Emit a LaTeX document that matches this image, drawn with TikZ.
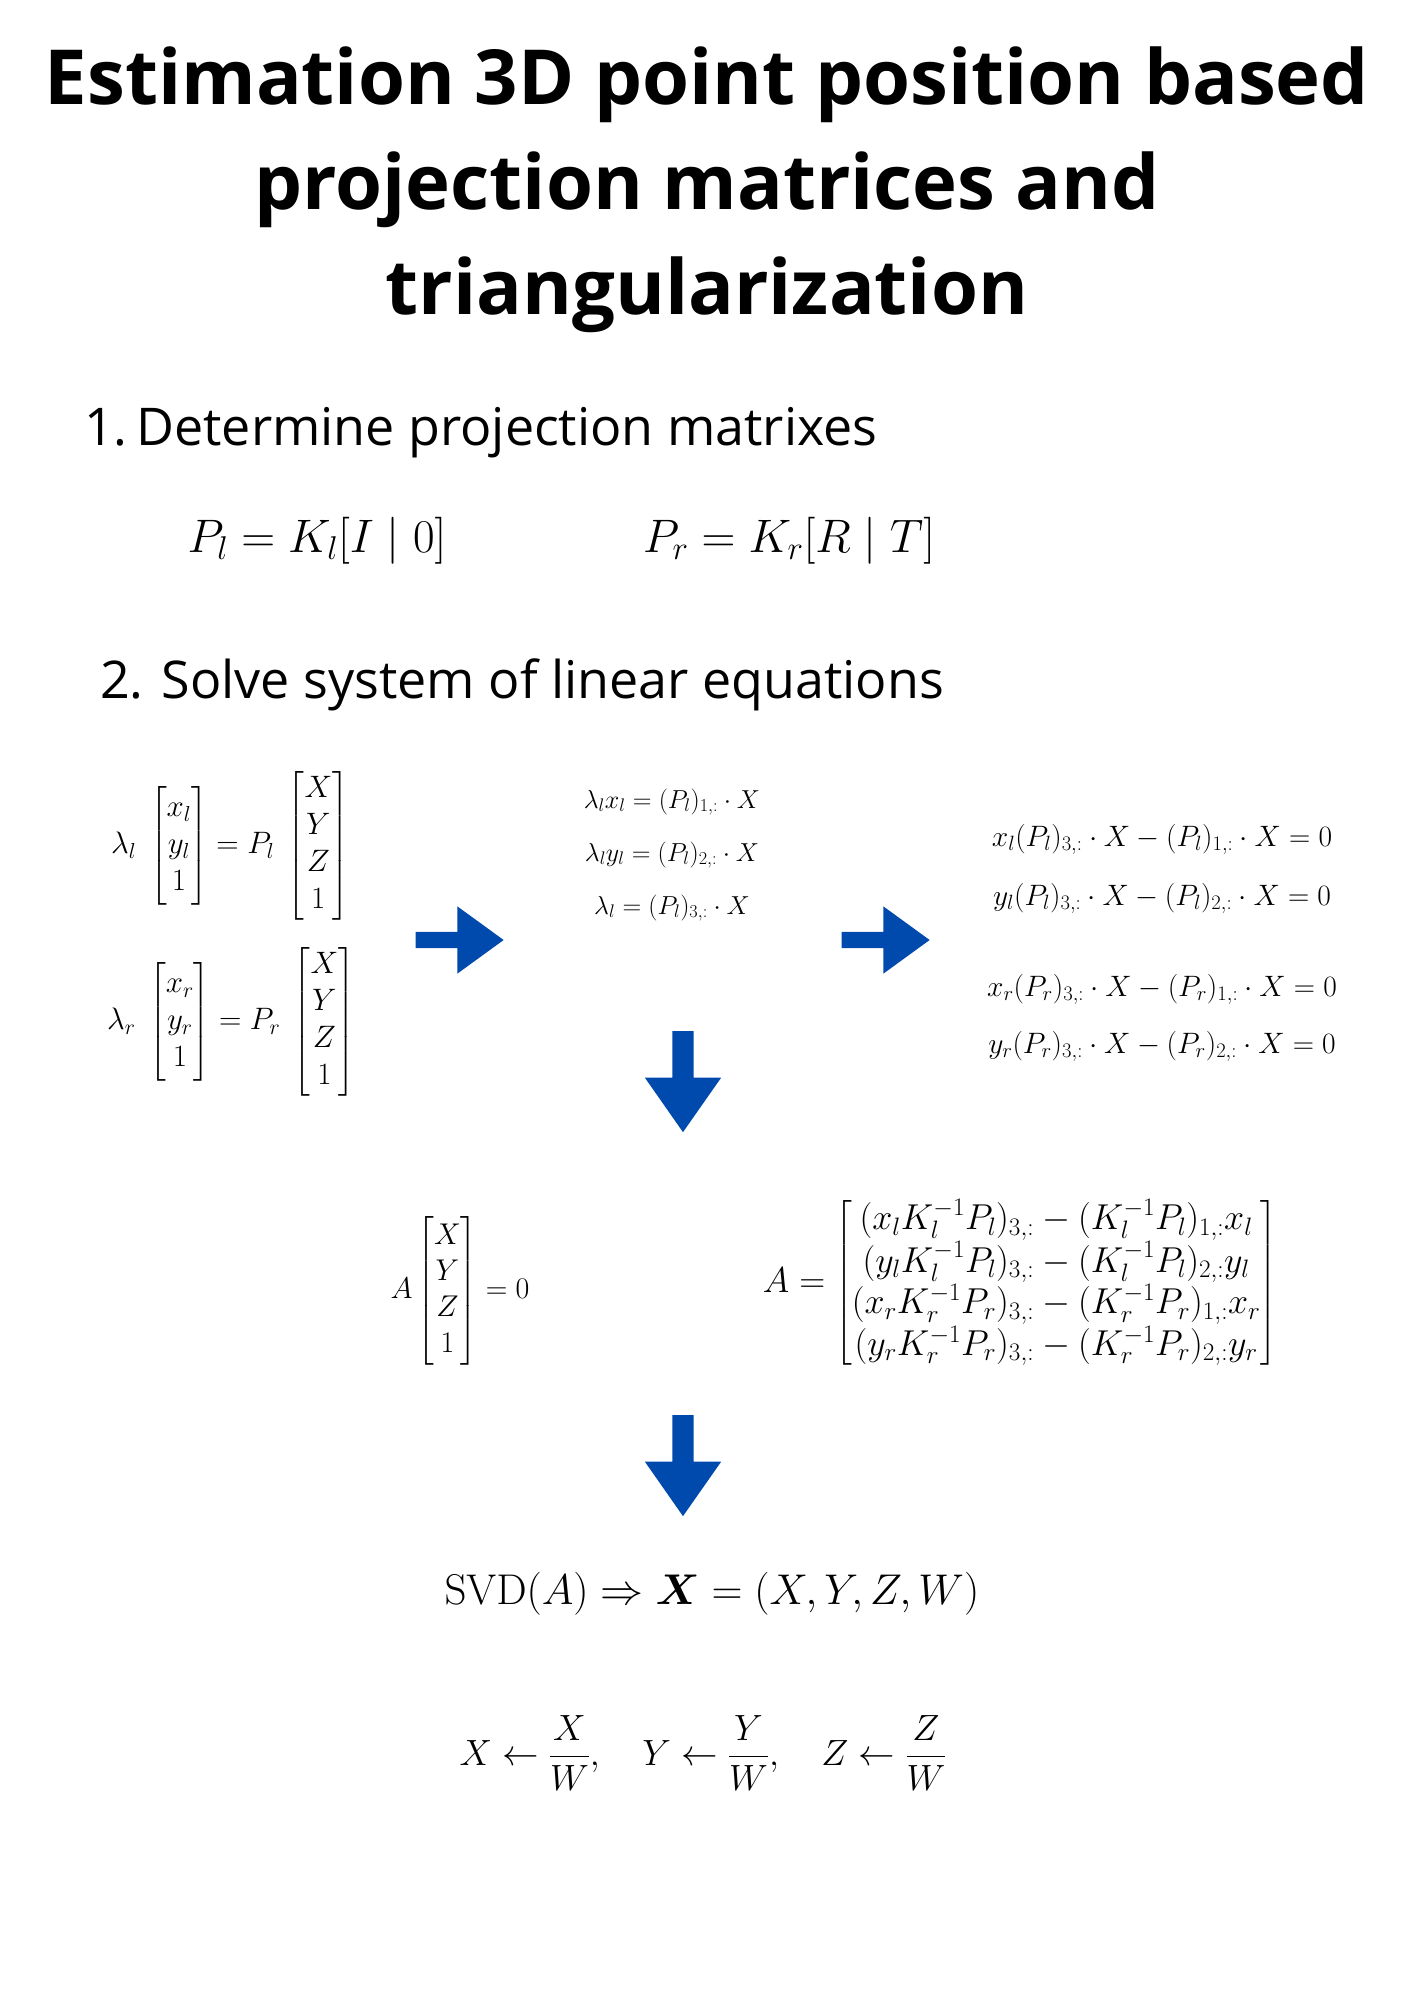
\RequirePackage{fix-cm}
\documentclass[tikz,border=0pt]{standalone}
\usepackage{amsmath}
\usepackage[no-math]{fontspec}
\setmainfont{Open Sans}
\usetikzlibrary{shapes.arrows, positioning}
\definecolor{azulcanva}{HTML}{004AAD}
\colorlet{colTexto}{black}
\colorlet{colFlecha}{azulcanva}
\tikzset{
  titulo/.style={font=\fontsize{76}{105}\selectfont\bfseries, align=center,
    text=colTexto, inner sep=0pt},
  paso/.style={font=\fontsize{52}{60}\selectfont, anchor=base west,
    text=colTexto, inner sep=0pt},
  ecuacion/.style={inner sep=0pt, text=colTexto, align=center},
  flechaDer/.style={single arrow, fill=colFlecha, draw=none,
    inner xsep=0pt, inner ysep=8pt, single arrow head extend=25.5pt,
    single arrow tip angle=72, minimum height=88pt},
  flechaAbajo/.style={flechaDer, rotate=-90, inner ysep=10.5pt,
    single arrow head extend=27.5pt, single arrow tip angle=70,
    minimum height=101pt},
}
\newcommand{\tam}[2]{\fontsize{#1}{#2}\selectfont}

\begin{document}
\begin{tikzpicture}[x=1pt, y=-1pt]
  \fill[white] (0,0) rectangle (1414,2000);
  \useasboundingbox (0,0) rectangle (1414,2000);

  % titulo y pasos
  \node[titulo, anchor=north] (t) at (707,47)
    {Estimation 3D point position based\\projection matrices and\\triangularization};
  \node[paso] (p1) at (84,445) {1.\,Determine projection matrixes};
  \node[paso] (p2) at (100,698) {2. Solve system of linear equations};

  % matrices de proyeccion
  \node[ecuacion, font=\tam{47}{52}, anchor=base] (pl) at (317,552) {$P_l = K_l[I \mid 0]$};
  \node[ecuacion, font=\tam{47}{52}, anchor=base] (pr) at (789,552) {$P_r = K_r[R \mid T]$};

  % sistema
  \node[ecuacion, font=\tam{31}{37}] (sisL) at (230,846)
    {$\lambda_l\; \begin{bmatrix} x_l\\ y_l\\ 1 \end{bmatrix} = P_l\;
      \begin{bmatrix} X\\ Y\\ Z\\ 1 \end{bmatrix}$};
  \node[ecuacion, font=\tam{31}{37}] (sisR) at (231,1022)
    {$\lambda_r\; \begin{bmatrix} x_r\\ y_r\\ 1 \end{bmatrix} = P_r\;
      \begin{bmatrix} X\\ Y\\ Z\\ 1 \end{bmatrix}$};

  \node[flechaDer] (f1) at (454,940) {};

  \node[ecuacion, font=\tam{26}{53}] (medio) at (672,855)
    {$\lambda_l x_l = (P_l)_{1,:} \cdot X$\\
     $\lambda_l y_l = (P_l)_{2,:} \cdot X$\\
     $\lambda_l = (P_l)_{3,:} \cdot X$};

  \node[flechaDer] (f2) at (880,940) {};

  \node[ecuacion, font=\tam{29.5}{59}] (derL) at (1162,869)
    {$x_l (P_l)_{3,:} \cdot X - (P_l)_{1,:} \cdot X = 0$\\
     $y_l (P_l)_{3,:} \cdot X - (P_l)_{2,:} \cdot X = 0$};
  \node[ecuacion, font=\tam{29.5}{57}] (derR) at (1162,1018)
    {$x_r (P_r)_{3,:} \cdot X - (P_r)_{1,:} \cdot X = 0$\\
     $y_r (P_r)_{3,:} \cdot X - (P_r)_{2,:} \cdot X = 0$};

  \node[flechaAbajo] (f3) at (683,1074) {};

  % forma homogenea
  \node[ecuacion, font=\tam{30}{36}] (aHom) at (460,1291)
    {$A \begin{bmatrix} X\\ Y\\ Z\\ 1 \end{bmatrix} = 0$};
  \node[ecuacion, font=\tam{36}{40}] (aMat) at (1020,1283)
    {$A = \begin{bmatrix}
      (x_l K_l^{-1} P_l)_{3,:} - (K_l^{-1} P_l)_{1,:} x_l\\
      (y_l K_l^{-1} P_l)_{3,:} - (K_l^{-1} P_l)_{2,:} y_l\\
      (x_r K_r^{-1} P_r)_{3,:} - (K_r^{-1} P_r)_{1,:} x_r\\
      (y_r K_r^{-1} P_r)_{3,:} - (K_r^{-1} P_r)_{2,:} y_r
    \end{bmatrix}$};

  \node[flechaAbajo] (f4) at (683,1458) {};

  % solucion
  \node[ecuacion, font=\tam{43}{50}] (svd) at (712,1594)
    {$\mathrm{SVD}(A) \Rightarrow \boldsymbol{X} = (X, Y, Z, W)$};
  \node[ecuacion, font=\tam{36.5}{44}] (norm) at (703,1753)
    {$X \leftarrow \dfrac{X}{W},\quad Y \leftarrow \dfrac{Y}{W},\quad Z \leftarrow \dfrac{Z}{W}$};
\end{tikzpicture}
\end{document}
